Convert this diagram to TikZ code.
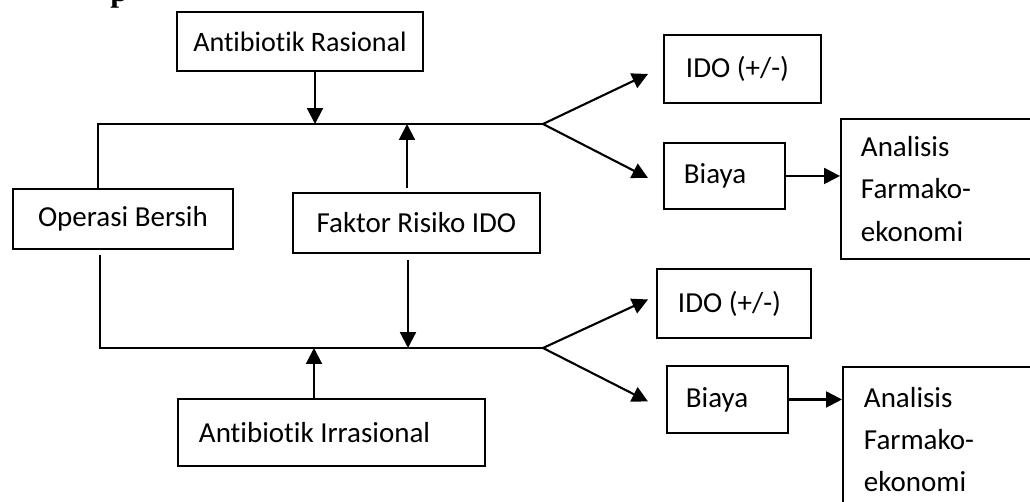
\documentclass[tikz,border=0pt]{standalone}
\usepackage{fontspec}
\setmainfont{Carlito}[Ligatures=NoCommon]
\newfontfamily\titelfont{Liberation Serif}
\usetikzlibrary{arrows.meta}
\def\einheit{0.2mm}

\begin{document}
\begin{tikzpicture}[x=0.02cm,y=-0.02cm,
  box/.style={draw,line width=1.1pt,inner ysep=0pt,anchor=north west,font=\fontsize{16.5}{24}\selectfont},
  linksbox/.style={box,align=flush left},
  linie/.style={line width=1.2pt},
  pfeil/.style={line width=1.2pt,-{Triangle[length=9pt,width=9pt]}}]
\useasboundingbox (0,0) rectangle (1030,501);

% Titel (abgeschnitten)
\node[anchor=base west,inner sep=0pt,font=\titelfont\bfseries\fontsize{18}{18}\selectfont] (titel) at (110,1) {p};

% Boxen links
\node[box,minimum width=246*\einheit,minimum height=59*\einheit,font=\fontsize{16}{24}\selectfont] (rasional) at (176,11) {Antibiotik Rasional};
\node[box,minimum width=220*\einheit,minimum height=60*\einheit] (operasi) at (12,188) {Operasi Bersih};
\node[box,minimum width=247*\einheit,minimum height=60*\einheit] (faktor) at (292,192) {Faktor Risiko IDO};
\node[linksbox,minimum height=67*\einheit,text width=265*\einheit,inner xsep=21*\einheit] (irrasional) at (177,398) {Antibiotik Irrasional};

% Boxen rechts
\node[linksbox,minimum height=68*\einheit,text width=113*\einheit,inner xsep=22*\einheit] (idoatas) at (663,34) {IDO (+/-)};
\node[linksbox,minimum height=66*\einheit,text width=81*\einheit,inner xsep=20*\einheit] (biayaatas) at (663,142) {Biaya};
\node[linksbox,minimum height=140*\einheit,text width=180*\einheit,inner xsep=20*\einheit] (analisisatas) at (840,118) {Analisis\\Farmako-\\ekonomi};
\node[linksbox,minimum height=69*\einheit,text width=112*\einheit,inner xsep=21*\einheit] (idobawah) at (656,268) {IDO (+/-)};
\node[linksbox,minimum height=67*\einheit,text width=83*\einheit,inner xsep=19*\einheit] (biayabawah) at (666,365) {Biaya};
\node[linksbox,text width=180*\einheit,inner xsep=21*\einheit,inner ysep=20*\einheit] (analisisbawah) at (842,366) {Analisis\\Farmako-\\ekonomi};

% Koordinaten
\coordinate (eckeoben) at (98,124);
\coordinate (eckeunten) at (100,348);
\coordinate (gabeloben) at (543,124);
\coordinate (gabelunten) at (543,348);
\coordinate (rasionalziel) at (315,124);
\coordinate (faktorziel) at (407,124);
\coordinate (faktorunten) at (408,348);
\coordinate (irrasionalziel) at (314,348);

% Linien
\draw[linie] (operasi.north -| eckeoben) -- (eckeoben) -- (gabeloben);
\draw[linie,shorten <=5*\einheit] (operasi.south -| eckeunten) -- (eckeunten) -- (gabelunten);

% Pfeile
\draw[pfeil] (rasional.south -| rasionalziel) -- (rasionalziel);
\draw[pfeil,shorten <=4*\einheit] (faktor.north -| faktorziel) -- (faktorziel);
\draw[pfeil,shorten <=6*\einheit] (faktor.south -| faktorunten) -- (faktorunten);
\draw[pfeil] (irrasional.north -| irrasionalziel) -- (irrasionalziel);
\draw[pfeil] (gabeloben) -- ([shift={(-15,5)}]idoatas.west);
\draw[pfeil] (gabeloben) -- ([shift={(-15,2)}]biayaatas.west);
\draw[pfeil] (gabelunten) -- ([shift={(-8,-4)}]idobawah.west);
\draw[pfeil] (gabelunten) -- ([shift={(-18,2)}]biayabawah.west);
\draw[pfeil] (biayaatas.east) -- (biayaatas.east -| analisisatas.west);
\draw[pfeil] (biayabawah.east) -- (biayabawah.east -| analisisbawah.west);
\end{tikzpicture}
\end{document}
